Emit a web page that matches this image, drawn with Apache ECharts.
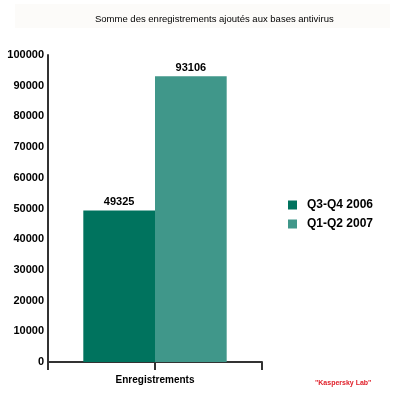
<!DOCTYPE html>
<html><head><meta charset="utf-8">
<script src="https://cdn.jsdelivr.net/npm/echarts@6/dist/echarts.min.js"></script>
<style>html,body{margin:0;padding:0;background:#fff}#c{width:400px;height:400px}</style>
</head><body><div id="c"></div>
<script>
const categories = ['Enregistrements'];
const seriesNames = ['Q3-Q4 2006', 'Q1-Q2 2007'];
const valuesQ3Q4_2006 = [49325];
const valuesQ1Q2_2007 = [93106];
const yTicks = [0, 10000, 20000, 30000, 40000, 50000, 60000, 70000, 80000, 90000, 100000];

const FONT = '"Liberation Sans", Arial, sans-serif';
const chart = echarts.init(document.getElementById('c'));
chart.setOption({
  animation: false,
  title: {
    text: 'Somme des enregistrements ajoutés aux bases antivirus',
    left: 90, top: 9,
    textStyle: { fontFamily: FONT, fontSize: 9.5, fontWeight: 'normal', color: '#000' }
  },
  graphic: [
    { type: 'rect', z: -10, shape: { x: 15, y: 4, width: 375, height: 24 }, style: { fill: '#fcfbf9' } },
    { type: 'text', left: 315, top: 380, style: { text: '"Kaspersky Lab"', fill: '#e0202a', font: 'bold 7px ' + FONT } }
  ],
  legend: {
    orient: 'vertical', left: 283, top: 194, itemWidth: 9, itemHeight: 9, itemGap: 7,
    icon: 'rect',
    textStyle: { fontFamily: FONT, fontSize: 12, fontWeight: 'bold', color: '#000', padding: [0, 0, 0, 5] },
    data: seriesNames
  },
  grid: { left: 48, right: 138, top: 55, bottom: 38 },
  xAxis: [{
    type: 'category', data: categories,
    axisLine: { lineStyle: { color: '#333', width: 2 } },
    axisTick: { show: true, length: 8, lineStyle: { color: '#333', width: 2 } },
    axisLabel: { fontFamily: FONT, fontSize: 10, fontWeight: 'bold', color: '#000', margin: 13 }
  }, {
    type: 'category', data: categories, position: 'bottom',
    axisLine: { show: false },
    axisTick: { show: true, alignWithLabel: true, length: 8, lineStyle: { color: '#333', width: 2 } },
    axisLabel: { show: false }
  }],
  yAxis: {
    type: 'value', min: yTicks[0], max: yTicks[yTicks.length - 1], interval: 10000,
    splitLine: { show: false },
    axisLine: { show: true, lineStyle: { color: '#333', width: 2 } },
    axisTick: { show: false },
    axisLabel: { fontFamily: FONT, fontSize: 11, fontWeight: 'bold', color: '#000', margin: 4,
      formatter: v => String(v) }
  },
  series: [
    { name: seriesNames[0], type: 'bar', data: valuesQ3Q4_2006, barGap: '0%', barCategoryGap: '33%',
      itemStyle: { color: '#00735e' },
      label: { show: true, position: 'top', distance: 3, fontFamily: FONT, fontSize: 11, fontWeight: 'bold', color: '#000' } },
    { name: seriesNames[1], type: 'bar', data: valuesQ1Q2_2007, barGap: '0%', barCategoryGap: '33%',
      itemStyle: { color: '#40978a' },
      label: { show: true, position: 'top', distance: 3, fontFamily: FONT, fontSize: 11, fontWeight: 'bold', color: '#000' } }
  ]
});
</script></body></html>
